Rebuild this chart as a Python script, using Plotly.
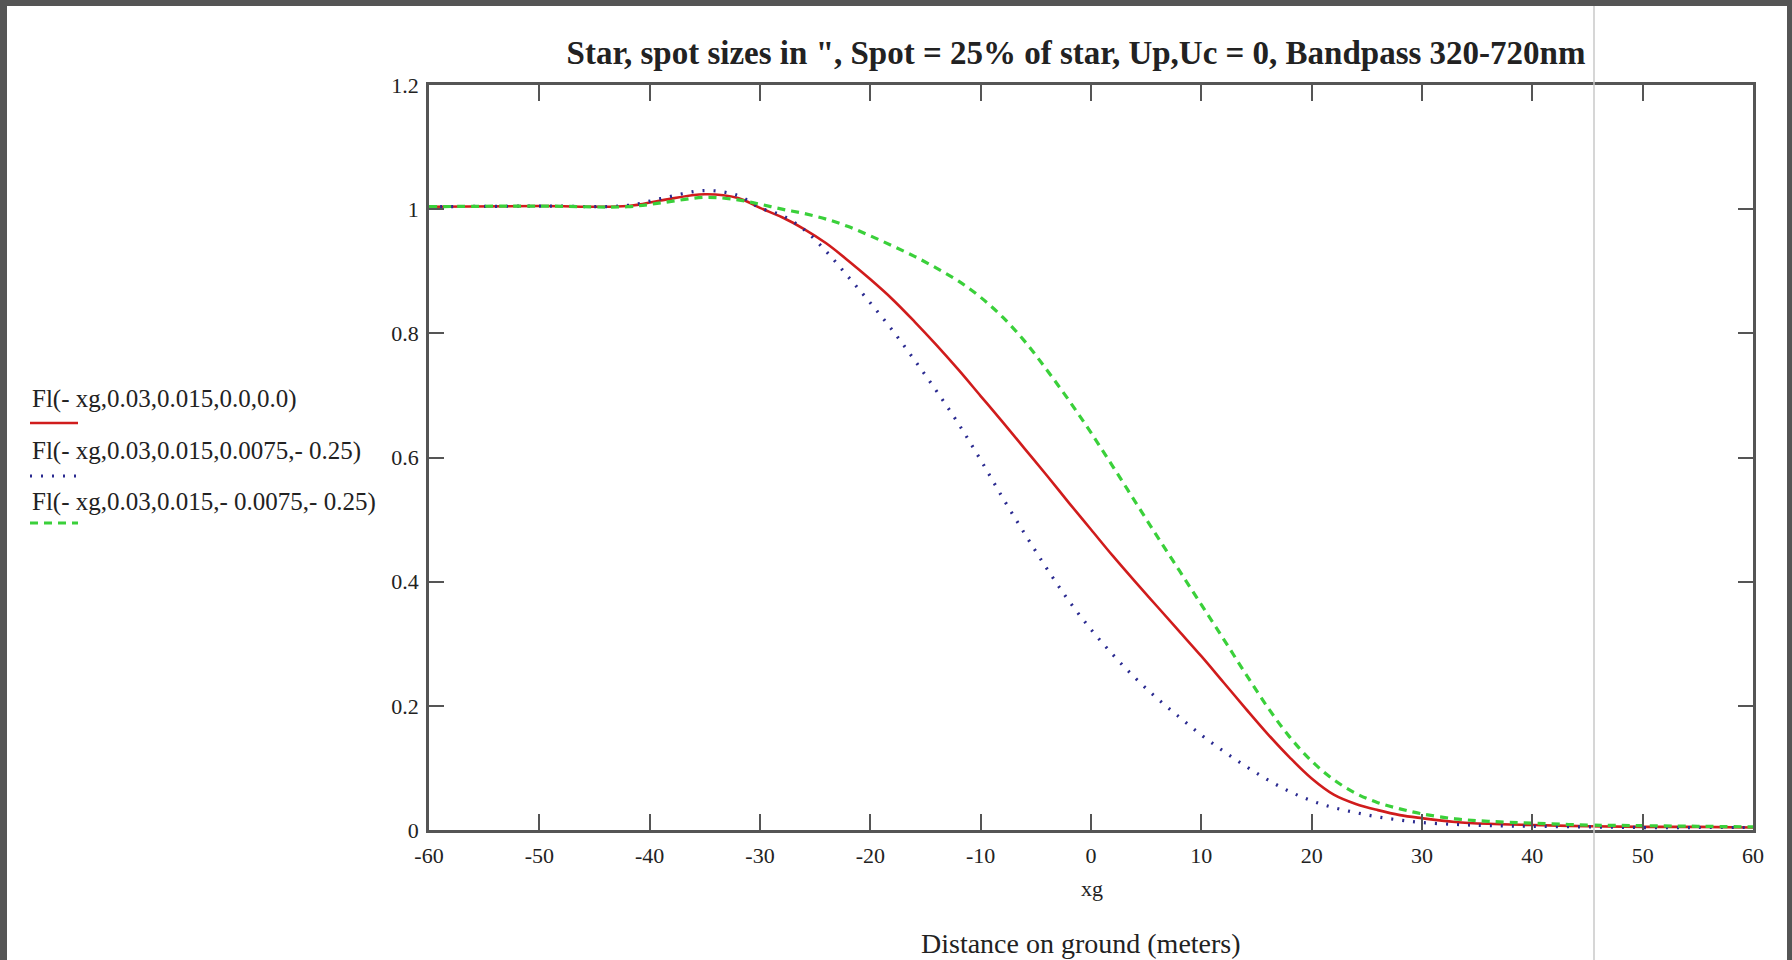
import plotly.graph_objects as go

# ---------------- data ----------------
xg = [-60, -50, -42, -39, -35, -32, -30, -28, -26, -24, -22, -20, -18, -16, -14, -12, -10,
      -8, -6, -4, -2, 0, 2, 4, 6, 8, 10, 12, 14, 16, 18, 20, 22, 24, 26, 28, 30, 33, 36,
      40, 45, 50, 55, 60]

fl_a = [1.004, 1.005, 1.005, 1.014, 1.024, 1.018, 1.002, 0.987, 0.968, 0.945, 0.917, 0.887,
        0.855, 0.819, 0.781, 0.741, 0.699, 0.657, 0.614, 0.571, 0.527, 0.484, 0.441, 0.400,
        0.360, 0.320, 0.280, 0.238, 0.196, 0.155, 0.117, 0.083, 0.057, 0.042, 0.032, 0.024,
        0.019, 0.013, 0.010, 0.008, 0.006, 0.005, 0.005, 0.004]

fl_b = [1.004, 1.005, 1.006, 1.017, 1.030, 1.022, 1.002, 0.990, 0.967, 0.932, 0.891, 0.849,
        0.805, 0.757, 0.707, 0.654, 0.596, 0.535, 0.477, 0.421, 0.369, 0.323, 0.282, 0.245,
        0.212, 0.182, 0.153, 0.127, 0.103, 0.081, 0.062, 0.047, 0.036, 0.028, 0.021, 0.016,
        0.012, 0.009, 0.007, 0.006, 0.005, 0.004, 0.004, 0.004]

fl_c = [1.004, 1.005, 1.004, 1.010, 1.019, 1.015, 1.008, 1.000, 0.993, 0.984, 0.972, 0.957,
        0.941, 0.924, 0.905, 0.884, 0.858, 0.826, 0.787, 0.741, 0.692, 0.640, 0.585, 0.529,
        0.473, 0.418, 0.363, 0.308, 0.252, 0.198, 0.150, 0.111, 0.081, 0.059, 0.044, 0.034,
        0.026, 0.018, 0.014, 0.011, 0.008, 0.007, 0.006, 0.005]

series_names = ["Fl(- xg,0.03,0.015,0.0,0.0)",
                "Fl(- xg,0.03,0.015,0.0075,- 0.25)",
                "Fl(- xg,0.03,0.015,- 0.0075,- 0.25)"]

x_tick_vals = [-60, -50, -40, -30, -20, -10, 0, 10, 20, 30, 40, 50, 60]
x_tick_text = ["-60", "-50", "-40", "-30", "-20", "-10", "0", "10", "20", "30", "40", "50", "60"]
y_tick_vals = [0, 0.2, 0.4, 0.6, 0.8, 1.0, 1.2]
y_tick_text = ["0", "0.2", "0.4", "0.6", "0.8", "1", "1.2"]

title_text = "Star, spot sizes in \", Spot = 25% of star, Up,Uc = 0, Bandpass 320-720nm"
x_label = "xg"
x_caption = "Distance on ground (meters)"

# ---------------- layout geometry ----------------
W, H = 1792, 960
L, R, T, B = 429, 1753, 85, 830


def px(xp):
    return (xp - L) / (R - L)


def py(yp):
    return (B - yp) / (B - T)


FONT = "Liberation Serif, Times New Roman, serif"
TXT = "#222222"
RED = "#d01c1c"
BLUE = "#2a2a90"
GREEN = "#3ad03a"
AXC = "#555555"

styles = [
    dict(color=RED, width=2.6, dash="solid"),
    dict(color=BLUE, width=3.2, dash="2px,9px"),
    dict(color=GREEN, width=3.2, dash="8px,6px"),
]

fig = go.Figure()
for name, ys, st in zip(series_names, [fl_a, fl_b, fl_c], styles):
    fig.add_trace(go.Scatter(x=xg, y=ys, mode="lines", name=name, line=st,
                             line_shape="spline", showlegend=False))

shapes = []
annotations = []

# legend entries (text with a line sample underneath)
leg_text_y = [399, 451, 502]
leg_line_y = [423, 476, 523]
for name, st, ty, ly in zip(series_names, styles, leg_text_y, leg_line_y):
    annotations.append(dict(text=name, xref="paper", yref="paper", x=px(30), y=py(ty),
                            xanchor="left", yanchor="middle", showarrow=False,
                            font=dict(family=FONT, size=25, color=TXT)))
    shapes.append(dict(type="line", xref="paper", yref="paper", x0=px(30), x1=px(78),
                       y0=py(ly), y1=py(ly), line=st))

# axis captions
annotations.append(dict(text=x_label, xref="paper", yref="paper", x=px(1092), y=py(889),
                        xanchor="center", yanchor="middle", showarrow=False,
                        font=dict(family=FONT, size=22, color=TXT)))
annotations.append(dict(text=x_caption, xref="paper", yref="paper", x=px(1081), y=py(943),
                        xanchor="center", yanchor="middle", showarrow=False,
                        font=dict(family=FONT, size=28, color=TXT)))

# screenshot frame: dark borders and light vertical divider
shapes += [
    dict(type="rect", xref="paper", yref="paper", x0=px(0), x1=px(7), y0=py(0), y1=py(H),
         fillcolor="#555555", line=dict(width=0), layer="above"),
    dict(type="rect", xref="paper", yref="paper", x0=px(1787), x1=px(W), y0=py(0), y1=py(H),
         fillcolor="#555555", line=dict(width=0), layer="above"),
    dict(type="rect", xref="paper", yref="paper", x0=px(0), x1=px(W), y0=py(0), y1=py(6),
         fillcolor="#555555", line=dict(width=0), layer="above"),
    dict(type="line", xref="paper", yref="paper", x0=px(1594), x1=px(1594), y0=py(6), y1=py(H),
         line=dict(color="#c8c8c8", width=1.5), layer="above"),
]

fig.update_layout(
    width=W, height=H,
    margin=dict(l=L, r=W - R, t=T, b=H - B),
    paper_bgcolor="white", plot_bgcolor="white",
    title=dict(text="<b>" + title_text + "</b>", x=1076 / W, xref="container", xanchor="center",
               y=1 - 52 / H, yref="container", yanchor="middle",
               font=dict(family=FONT, size=33, color=TXT)),
    shapes=shapes, annotations=annotations,
    font=dict(family=FONT, color=TXT),
)

fig.update_xaxes(range=[-60, 60], tickmode="array", tickvals=x_tick_vals, ticktext=x_tick_text,
                 showgrid=False, zeroline=False,
                 showline=True, linecolor=AXC, linewidth=2.5, mirror="ticks",
                 ticks="inside", ticklen=16, tickwidth=2, tickcolor=AXC, ticklabelstandoff=4,
                 tickfont=dict(family=FONT, size=22, color=TXT))
fig.update_yaxes(range=[0, 1.2], tickmode="array", tickvals=y_tick_vals, ticktext=y_tick_text,
                 showgrid=False, zeroline=False,
                 showline=True, linecolor=AXC, linewidth=2.5, mirror="ticks",
                 ticks="inside", ticklen=15, tickwidth=2, tickcolor=AXC, ticklabelstandoff=3,
                 tickfont=dict(family=FONT, size=22, color=TXT))

fig.write_html("out.html")
